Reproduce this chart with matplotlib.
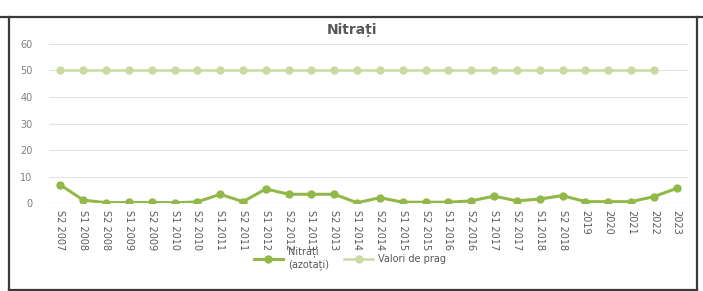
import numpy as np
import matplotlib.pyplot as plt
from matplotlib.lines import Line2D

# date
perioade = ['S2 2007', 'S1 2008', 'S2 2008', 'S1 2009', 'S2 2009', 'S1 2010', 'S2 2010',
            'S1 2011', 'S2 2011', 'S1 2012', 'S2 2012', 'S1 2013', 'S2 2013', 'S1 2014',
            'S2 2014', 'S1 2015', 'S2 2015', 'S1 2016', 'S2 2016', 'S1 2017', 'S2 2017',
            'S1 2018', 'S2 2018', '2019', '2020', '2021', '2022', '2023']
nitrati = [6.8, 1.1, 0.1, 0.2, 0.2, 0.1, 0.4, 3.3, 0.5, 5.3, 3.3, 3.3, 3.3, 0.1,
           2.0, 0.3, 0.3, 0.3, 0.8, 2.6, 0.8, 1.5, 2.8, 0.5, 0.5, 0.5, 2.4, 5.5]
prag = [50] * 27 + [np.nan]
yticks = [0, 10, 20, 30, 40, 50, 60]

verde = '#93b84a'
verde_deschis = '#cbdaa2'

fig = plt.figure(figsize=(7.03, 2.91), dpi=100)
ax = fig.add_axes([0.0697, 0.3024, 0.909, 0.5464])

x = np.arange(len(perioade))
ax.plot(x, prag, '-o', color=verde_deschis, lw=1.8, ms=5, label='Valori de prag', zorder=3)
ax.plot(x, nitrati, '-o', color=verde, lw=2.2, ms=5, label='Nitrați\n(azotați)', zorder=4)

ax.set_xlim(-0.5, len(perioade) - 0.5)
ax.set_ylim(0, 60)
ax.set_yticks(yticks)
ax.set_xticks(x)
ax.set_xticklabels(perioade, rotation=-90, fontsize=7, color='#595959')
ax.tick_params(axis='y', labelsize=7, labelcolor='#7f7f7f', length=0, pad=12)
ax.tick_params(axis='x', length=0, pad=5)
ax.grid(axis='y', color='#e3e3e3', lw=0.8)
for s in ax.spines.values():
    s.set_visible(False)
ax.axhline(0, color='#d9d9e6', lw=0.8, zorder=1)

fig.text(352 / 703, 1 - 30 / 291, 'Nitrați', ha='center', va='center',
         fontsize=10, fontweight='bold', color='#595959')

# legenda (suprapusa peste etichete, ca in original)
h1 = Line2D([], [], color=verde, lw=2.2, marker='o', ms=5)
h2 = Line2D([], [], color=verde_deschis, lw=1.8, marker='o', ms=5)
fig.legend([h1, h2], ['Nitrați\n(azotați)', 'Valori de prag'], ncol=2, frameon=False,
           loc='center', bbox_to_anchor=(350 / 703, 1 - 258 / 291), fontsize=7,
           labelcolor='#595959', handlelength=3.0, columnspacing=1.6, handletextpad=0.5)

# chenar
ln = dict(color='#3a3a3a', lw=1.6, transform=fig.transFigure)
fig.add_artist(Line2D([0, 1], [1 - 17 / 291] * 2, **ln))
fig.add_artist(Line2D([9 / 703] * 2, [0, 1 - 17 / 291], **ln))
fig.add_artist(Line2D([697 / 703] * 2, [0, 1 - 17 / 291], **ln))
fig.add_artist(Line2D([9 / 703, 697 / 703], [1.5 / 291] * 2, **ln))

plt.savefig('out.png', dpi=100)
